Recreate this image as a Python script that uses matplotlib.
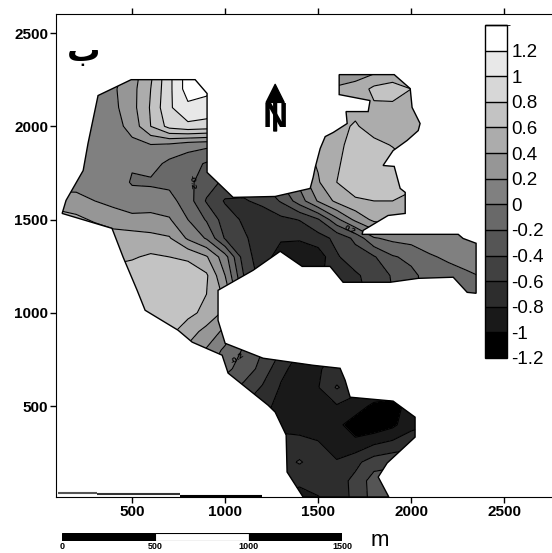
import numpy as np
import matplotlib
matplotlib.use("Agg")
import matplotlib.pyplot as plt
from matplotlib.colors import ListedColormap, BoundaryNorm
from matplotlib.patches import Polygon, Rectangle

plt.rcParams['font.family'] = ['Liberation Sans', 'DejaVu Sans']
plt.rcParams['contour.negative_linestyle'] = 'solid'

nan = np.nan

# --- data ---
x_grid = list(range(100, 2500, 100))
y_grid = list(range(2300, -100, -100))

z_rows = [
    [nan, nan, .05, .12, .30, .55, .95, 1.3, 1.3, 1.1, nan, nan, nan, nan, nan, .30, .30, .34, .42, .60, .50, nan, nan, nan],
    [nan, .05, .08, .17, .33, .60, .95, 1.3, 1.25, 1.1, nan, nan, nan, nan, nan, .42, .47, .65, .70, .60, .50, nan, nan, nan],
    [nan, .10, .13, .15, .33, .62, .97, 1.15, 1.12, 1.0, nan, nan, nan, nan, nan, .50, .55, .57, .55, .50, .50, nan, nan, nan],
    [nan, .12, .13, .12, .27, .60, .87, .95, .92, .85, nan, nan, nan, nan, .50, .55, .62, .52, .48, .47, .45, nan, nan, nan],
    [nan, .12, .13, .12, .15, .19, .16, .08, .05, .05, nan, nan, nan, .40, .45, .52, .72, .65, .59, .50, .45, nan, nan, nan],
    [nan, .14, .13, .13, .02, .08, -.05, -.12, -.22, -.30, -.30, nan, nan, .30, .42, .57, .72, .72, .68, .60, .50, nan, nan, nan],
    [.15, .12, .12, .12, -.02, -.03, -.05, -.15, -.30, -.45, -.50, -.40, -.20, .05, .38, .60, .72, .75, .72, .65, .55, nan, nan, nan],
    [.25, .27, .20, .13, .10, .10, .07, -.10, -.42, -.62, -.62, -.55, -.38, -.10, .22, .45, .57, .60, .60, .55, .50, nan, nan, nan],
    [.55, .45, .37, .33, .25, .26, .22, 0, -.22, -.50, -.63, -.72, -.65, -.59, -.42, -.05, .25, .45, .50, .50, .50, .12, .12, .12],
    [.60, .60, .55, .47, .50, .46, .42, .17, -.02, -.42, -.57, -.70, -.78, -.78, -.68, -.55, -.35, -.02, .05, .08, .10, .10, .10, .10],
    [nan, nan, nan, .55, .58, .63, .60, .57, .42, .08, -.50, -.72, -.88, -.92, -.92, -.62, -.50, -.42, -.22, -.15, -.02, .03, .08, .10],
    [nan, nan, nan, .68, .70, .70, .72, .70, .63, .20, -.40, -.70, -.90, -.95, -.85, -.68, -.63, -.52, -.38, -.25, -.12, -.07, -.03, .02],
    [nan, nan, nan, nan, .72, .75, .75, .75, .60, .35, -.30, -.70, -.90, -.95, -.85, -.75, -.65, -.55, -.40, -.25, -.15, -.10, -.03, -.03],
    [nan, nan, nan, nan, .72, .72, .70, .65, .55, .35, nan, nan, nan, nan, nan, nan, nan, nan, nan, nan, nan, nan, nan, nan],
    [nan, nan, nan, nan, nan, .70, .65, .50, .33, .15, -.20, nan, nan, nan, nan, nan, nan, nan, nan, nan, nan, nan, nan, nan],
    [nan, nan, nan, nan, nan, nan, .45, .35, .18, -.05, -.22, -.40, -.60, -.80, -.85, -.80, -.70, nan, nan, nan, nan, nan, nan, nan],
    [nan, nan, nan, nan, nan, nan, nan, nan, .05, -.15, -.28, -.47, -.75, -.88, -.82, -.72, -.70, -.70, -.80, -.90, nan, nan, nan, nan],
    [nan, nan, nan, nan, nan, nan, nan, nan, nan, -.30, -.45, -.62, -.82, -.88, -.81, -.58, -.72, -.80, -.90, -.90, nan, nan, nan, nan],
    [nan, nan, nan, nan, nan, nan, nan, nan, nan, nan, -.60, -.75, -.85, -.90, -.88, -.82, -.90, -1.05, -1.05, -.95, -.90, nan, nan, nan],
    [nan, nan, nan, nan, nan, nan, nan, nan, nan, nan, nan, -.80, -.88, -.90, -.92, -.95, -1.1, -1.15, -1.05, -.85, -.80, nan, nan, nan],
    [nan, nan, nan, nan, nan, nan, nan, nan, nan, nan, nan, -.70, -.70, -.72, -.78, -.92, -.95, -.82, -.75, -.70, -.70, nan, nan, nan],
    [nan, nan, nan, nan, nan, nan, nan, nan, nan, nan, nan, nan, -.68, -.58, -.70, -.78, -.65, -.50, -.45, -.40, nan, nan, nan, nan],
    [nan, nan, nan, nan, nan, nan, nan, nan, nan, nan, nan, nan, -.70, -.76, -.72, -.68, -.55, -.30, -.30, -.30, nan, nan, nan, nan],
    [nan, nan, nan, nan, nan, nan, nan, nan, nan, nan, nan, nan, -.85, -.88, -.82, -.70, -.55, -.32, -.30, -.30, nan, nan, nan, nan],
]

# outline of the surveyed area
outline_x = [495, 839, 903, 903, 1043, 1269, 1457, 1473, 1484, 1511, 1538, 1581, 1656, 1650, 1769, 1779,
             1613, 1613, 1909, 1995, 2005, 2048, 2038, 1978, 1903, 1849, 1909, 1941, 1968, 1968, 1876,
             1742, 1736, 2253, 2279, 2349, 2349, 2301, 2226, 2038, 1887, 1634, 1564, 1414, 1296, 1150,
             962, 962, 1000, 1204, 1473, 1618, 1645, 1672, 1903, 2021, 2021, 1871, 1823, 1880, 1419,
             1333, 1328, 1269, 1231, 1016, 984, 823, 747, 570, 527, 452, 392, 124, 145, 237, 263, 317]
outline_y = [2250, 2250, 2176, 1753, 1619, 1624, 1667, 1726, 1779, 1881, 1945, 1967, 2015, 2079, 2079, 2138,
             2170, 2277, 2277, 2202, 2101, 2015, 1977, 1924, 1870, 1790, 1785, 1667, 1646, 1533, 1522,
             1442, 1421, 1421, 1399, 1373, 1105, 1110, 1191, 1185, 1164, 1164, 1249, 1249, 1330, 1228,
             1121, 960, 837, 757, 719, 703, 639, 548, 527, 441, 334, 195, 120, 13, 13,
             147, 345, 468, 505, 677, 773, 843, 907, 1014, 1121, 1298, 1453, 1533, 1603, 1763, 1908, 2165]

levels = [-1.2, -1.0, -0.8, -0.6, -0.4, -0.2, 0, 0.2, 0.4, 0.6, 0.8, 1.0, 1.2, 1.4]
grays = [0, 25, 45, 65, 85, 105, 128, 150, 172, 195, 215, 232, 255]
cbar_ticks = [-1.2, -1.0, -0.8, -0.6, -0.4, -0.2, 0, 0.2, 0.4, 0.6, 0.8, 1.0, 1.2]
cbar_labels = ['-1.2', '-1', '-0.8', '-0.6', '-0.4', '-0.2', '0', '0.2', '0.4', '0.6', '0.8', '1', '1.2']

x_ticks = [500, 1000, 1500, 2000, 2500]
y_ticks = [500, 1000, 1500, 2000, 2500]
scale_edges = [0, 500, 1000, 1500]
scale_colors = ['black', 'white', 'black']

# survey strip along the bottom edge
strip_x = [[100, 310], [310, 760], [760, 1200]]
strip_y = [[35, 35], [28, 28], [20, 20]]
strip_c = ['#555555', '#333333', 'black']

# --- figure ---
W, H = 552, 553
fig = plt.figure(figsize=(W / 100, H / 100), dpi=100)


def box(left, top, right, bottom):
    return [left / W, 1 - bottom / H, (right - left) / W, (bottom - top) / H]


ax = fig.add_axes(box(56, 14, 560, 497))
ax.set_xlim(91, 2800)
ax.set_ylim(13, 2602)

Z = np.array(z_rows)
cmap = ListedColormap([(g / 255, g / 255, g / 255) for g in grays])
norm = BoundaryNorm(levels, cmap.N)

cf = ax.contourf(x_grid, y_grid, Z, levels=levels, cmap=cmap, norm=norm)
cl = ax.contour(x_grid, y_grid, Z, levels=levels, colors='black', linewidths=0.8)

area = Polygon(np.column_stack([outline_x, outline_y]), closed=True, fill=False, edgecolor='black', lw=1.0, zorder=3)
ax.add_patch(area)
cf.set_clip_path(area)
cl.set_clip_path(area)

for sx, sy, c in zip(strip_x, strip_y, strip_c):
    ax.plot(sx, sy, color=c, lw=1.5, solid_capstyle='butt')

ax.set_xticks(x_ticks)
ax.set_yticks(y_ticks)
ax.tick_params(axis='both', length=4.5, width=1, labelsize=11, pad=1, top=True)
for lab in ax.get_xticklabels() + ax.get_yticklabels():
    lab.set_fontweight('bold')
ax.spines['right'].set_visible(False)

# labels on the contours
ax.text(823, 1699, '-0.2', fontsize=6, fontweight='bold', rotation=-85, ha='center', va='center')
ax.text(1672, 1442, '0.2', fontsize=6, fontweight='bold', rotation=-25, ha='center', va='center')
ax.text(1070, 757, '-0.2', fontsize=6, fontweight='bold', rotation=35, ha='center', va='center')

# letter and north arrow
ax.text(237, 2395, 'ب', fontsize=24, fontweight='bold', ha='center', va='center')
ax.text(1269, 2045, 'N', fontsize=25, fontweight='bold', ha='center', va='center')
ax.annotate('', xy=(1269, 2225), xytext=(1269, 1975),
            arrowprops=dict(facecolor='black', edgecolor='black', width=2, headwidth=13, headlength=13))

# colour bar
cax = fig.add_axes(box(485, 25, 507, 358))
cb = fig.colorbar(cf, cax=cax, ticks=cbar_ticks, drawedges=True)
cb.ax.set_yticklabels(cbar_labels)
cb.ax.tick_params(length=0, labelsize=13.5, pad=3)
cb.outline.set_linewidth(1.0)
cb.dividers.set_linewidth(1.0)

# scale bar
sax = fig.add_axes(box(62, 533, 342, 541))
sax.set_xlim(scale_edges[0], scale_edges[-1])
sax.set_ylim(0, 1)
for i, c in enumerate(scale_colors):
    sax.add_patch(Rectangle((scale_edges[i], 0), scale_edges[i + 1] - scale_edges[i], 1, facecolor=c, edgecolor='black', lw=0.8))
sax.set_xticks(scale_edges)
sax.set_yticks([])
sax.tick_params(axis='x', length=0, pad=1, labelsize=6.5)
for lab in sax.get_xticklabels():
    lab.set_fontweight('bold')
for s in sax.spines.values():
    s.set_visible(False)
fig.text(380 / W, 1 - 540 / H, 'm', fontsize=16, ha='center', va='center')

fig.savefig('out.png', dpi=100)
